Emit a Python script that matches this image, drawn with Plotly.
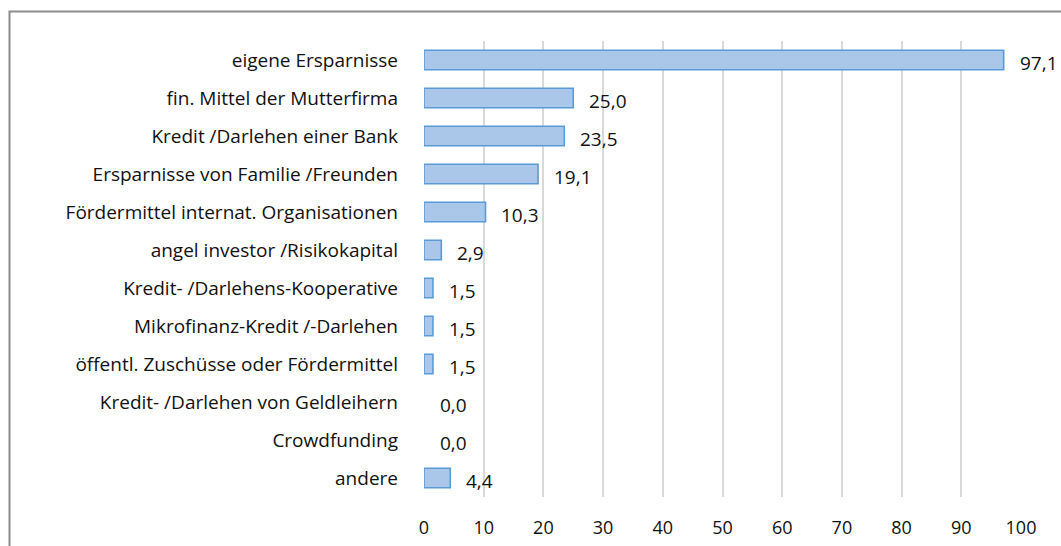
import plotly.graph_objects as go

categories = [
    "eigene Ersparnisse",
    "fin. Mittel der Mutterfirma",
    "Kredit /Darlehen einer Bank",
    "Ersparnisse von Familie /Freunden",
    "Fördermittel internat. Organisationen",
    "angel investor /Risikokapital",
    "Kredit- /Darlehens-Kooperative",
    "Mikrofinanz-Kredit /-Darlehen",
    "öffentl. Zuschüsse oder Fördermittel",
    "Kredit- /Darlehen von Geldleihern",
    "Crowdfunding",
    "andere",
]
values = [97.1, 25.0, 23.5, 19.1, 10.3, 2.9, 1.5, 1.5, 1.5, 0.0, 0.0, 4.4]
x_ticks = [0, 10, 20, 30, 40, 50, 60, 70, 80, 90, 100]

FONT = "Open Sans"
TXT = "#111111"

fig = go.Figure()
fig.add_trace(go.Bar(
    x=values,
    y=categories,
    orientation="h",
    width=0.51,
    marker=dict(
        color="#aac6e9",
        line=dict(color="#5b9bd5", width=[1.6 if v > 0 else 0 for v in values]),
    ),
    hoverinfo="x+y",
))

annotations = []
for c, v in zip(categories, values):
    annotations.append(dict(
        x=v, y=c, xref="x", yref="y",
        text=f"{v:.1f}".replace(".", ","),
        showarrow=False, xanchor="left", yanchor="middle",
        xshift=14, yshift=-3,
        font=dict(family=FONT, size=19, color=TXT),
    ))

fig.update_layout(
    width=1061, height=546,
    margin=dict(l=424, r=40, t=41, b=49, pad=0, autoexpand=False),
    paper_bgcolor="white",
    plot_bgcolor="white",
    showlegend=False,
    font=dict(family=FONT, size=19, color=TXT),
    annotations=annotations,
    shapes=[dict(
        type="rect", xref="paper", yref="paper",
        x0=-0.6943, x1=2.0, y0=-2.0, y1=1.0647,
        line=dict(color="#8c8c8c", width=2), fillcolor="rgba(0,0,0,0)",
        layer="below",
    )],
)
fig.update_xaxes(
    range=[0, 100], tickvals=x_ticks,
    showgrid=True, gridcolor="#d9d9d9", gridwidth=2,
    zeroline=False, showline=False, automargin=False,
    ticks="", ticklabelstandoff=18,
    tickfont=dict(family=FONT, size=18, color=TXT),
    fixedrange=True,
)
fig.update_yaxes(
    autorange="reversed",
    showgrid=False, zeroline=False, showline=False, automargin=False,
    ticks="", ticklabelstandoff=25,
    tickfont=dict(family=FONT, size=19, color=TXT),
    fixedrange=True,
)

fig.write_html(
    "out.html",
    config={"displayModeBar": False},
    post_script="document.body.style.margin='0';document.body.style.overflow='hidden';",
)
